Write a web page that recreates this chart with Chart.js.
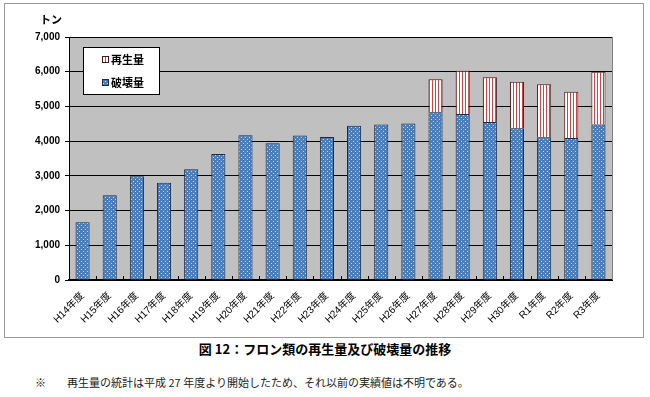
<!DOCTYPE html>
<html>
<head>
<meta charset="utf-8">
<script src="https://cdn.jsdelivr.net/npm/chart.js@4.4.0/dist/chart.umd.min.js"></script>
<style>
body{margin:0;background:#fff;width:650px;height:397px;position:relative;overflow:hidden;font-family:"Noto Sans CJK JP",sans-serif}
#frame{position:absolute;left:4px;top:3px;width:638px;height:333px;border:1px solid #9a9a9a}
#wrap{position:absolute;left:0;top:0;width:650px;height:338px}
#unit{position:absolute;left:40px;top:11px;font:bold 11px "Noto Sans CJK JP";color:#000}
#cap{position:absolute;left:0;width:650px;top:339px;text-align:center;font:bold 13px "Noto Sans CJK JP";color:#000}
#note{position:absolute;left:35px;top:374px;font:11px "Noto Sans CJK JP";color:#222}
#note span{display:inline-block;width:32px}
</style>
</head>
<body>
<div id="frame"></div>
<div id="wrap"><canvas id="myChart"></canvas></div>
<div id="unit">トン</div>
<div id="cap">図 12：フロン類の再生量及び破壊量の推移</div>
<div id="note"><span>※</span>再生量の統計は平成 27 年度より開始したため、それ以前の実績値は不明である。</div>
<script>
// fiscal years
var years = ['H14年度','H15年度','H16年度','H17年度','H18年度','H19年度','H20年度','H21年度','H22年度','H23年度',
             'H24年度','H25年度','H26年度','H27年度','H28年度','H29年度','H30年度','R1年度','R2年度','R3年度'];
// destroyed amount (t)
var destroyed = [1660, 2440, 2990, 2800, 3190, 3630, 4170, 3940, 4160, 4120,
                 4440, 4480, 4510, 4830, 4780, 4550, 4370, 4110, 4090, 4480];
// regenerated amount (t), only counted from H27
var regenerated = [null, null, null, null, null, null, null, null, null, null,
                   null, null, null, 950, 1250, 1290, 1340, 1530, 1330, 1520];
var yTicks = [0, 1000, 2000, 3000, 4000, 5000, 6000, 7000];

function dotPattern() {
  var c = document.createElement('canvas'); c.width = 4; c.height = 4;
  var g = c.getContext('2d');
  g.fillStyle = '#4a7ebb'; g.fillRect(0, 0, 4, 4);
  g.fillStyle = '#c9d9ef'; g.fillRect(1, 1, 1, 1); g.fillRect(3, 3, 1, 1);
  return g.createPattern(c, 'repeat');
}
function stripePattern() {
  var c = document.createElement('canvas'); c.width = 3; c.height = 3;
  var g = c.getContext('2d');
  g.fillStyle = '#ffffff'; g.fillRect(0, 0, 3, 3);
  g.fillStyle = '#c8474a'; g.fillRect(0, 0, 1, 3);
  return g.createPattern(c, 'repeat');
}
var blueFill = dotPattern();
var redFill = stripePattern();

var plotDeco = {
  id: 'plotDeco',
  beforeDraw: function(chart) {
    var a = chart.chartArea, ctx = chart.ctx;
    ctx.save();
    ctx.fillStyle = '#c0c0c0';
    ctx.fillRect(a.left, a.top, a.right - a.left, a.bottom - a.top);
    ctx.restore();
  },
  afterDatasetsDraw: function(chart) {
    var a = chart.chartArea, ctx = chart.ctx, x = chart.scales.x;
    ctx.save();
    ctx.strokeStyle = '#000'; ctx.lineWidth = 1;
    var step = (a.right - a.left) / years.length;
    for (var i = 1; i < years.length; i++) {
      var px = Math.round(x.getPixelForValue(i) - step / 2) + 0.5;
      ctx.beginPath(); ctx.moveTo(px, a.bottom - 4); ctx.lineTo(px, a.bottom); ctx.stroke();
    }
    ctx.strokeStyle = '#808080';
    ctx.beginPath(); ctx.moveTo(a.right + 0.5, a.top); ctx.lineTo(a.right + 0.5, a.bottom); ctx.stroke();
    ctx.restore();
  },
  afterDraw: function(chart) {
    var a = chart.chartArea, ctx = chart.ctx;
    var bx = a.left + 14, by = a.top + 10, bw = 76, bh = 47;
    ctx.save();
    ctx.fillStyle = '#fff'; ctx.fillRect(bx, by, bw, bh);
    ctx.strokeStyle = '#000'; ctx.lineWidth = 1;
    ctx.strokeRect(bx + 0.5, by + 0.5, bw, bh);
    var items = [[chart.data.datasets[1], by + 12], [chart.data.datasets[0], by + 35]];
    items.forEach(function(it) {
      var ds = it[0], cy = it[1];
      ctx.fillStyle = ds.backgroundColor;
      ctx.fillRect(bx + 19, cy - 3, 7, 7);
      ctx.strokeStyle = ds.borderColor;
      ctx.strokeRect(bx + 19.5, cy - 2.5, 6, 6);
      ctx.fillStyle = '#000';
      ctx.font = 'bold 11px "Noto Sans CJK JP"';
      ctx.textBaseline = 'middle';
      ctx.fillText(ds.label, bx + 28, cy + 1);
    });
    ctx.restore();
  }
};

new Chart(document.getElementById('myChart'), {
  type: 'bar',
  data: {
    labels: years,
    datasets: [{
      label: '破壊量',
      data: destroyed,
      backgroundColor: blueFill,
      borderColor: '#1b2b45',
      borderWidth: 1,
      barPercentage: 0.52,
      categoryPercentage: 1
    }, {
      label: '再生量',
      data: regenerated,
      backgroundColor: redFill,
      borderColor: '#4a1616',
      borderWidth: 1,
      barPercentage: 0.52,
      categoryPercentage: 1
    }]
  },
  options: {
    responsive: true,
    maintainAspectRatio: false,
    animation: false,
    layout: { padding: { top: 37, right: 38, left: 0, bottom: 0 } },
    plugins: { legend: { display: false }, tooltip: { enabled: false } },
    scales: {
      x: {
        stacked: true,
        afterFit: function(s) { s.height = 58; },
        grid: { display: false },
        border: { color: '#000', width: 2 },
        ticks: {
          minRotation: 45, maxRotation: 45, autoSkip: false, padding: 2,
          color: '#000', font: { family: '"Liberation Sans", "Noto Sans CJK JP"', size: 10 }
        }
      },
      y: {
        stacked: true,
        min: 0, max: 7000,
        afterFit: function(s) { s.width = 69; },
        afterBuildTicks: function(s) { s.ticks = yTicks.map(function(v) { return { value: v }; }); },
        grid: { color: '#000', lineWidth: 1, tickLength: 4 },
        border: { color: '#000', width: 1 },
        ticks: {
          padding: 5, color: '#000',
          font: { family: '"Liberation Sans", Arial', size: 10, weight: 'bold' },
          callback: function(v) { return v.toLocaleString('en-US'); }
        }
      }
    }
  },
  plugins: [plotDeco]
});
</script>
</body>
</html>
